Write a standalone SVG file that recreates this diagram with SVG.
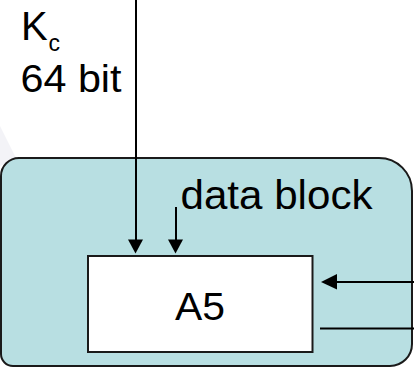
<svg xmlns="http://www.w3.org/2000/svg" width="414" height="368" viewBox="0 0 414 368">
<style>
text { font-family: "Liberation Sans", Arial, sans-serif; fill: #000; }
.conn { stroke: #000; stroke-width: 2; fill: none; }
.head { fill: #000; stroke: none; }
</style>
<rect x="0" y="0" width="414" height="368" fill="#ffffff"/>
<polygon points="0,126 16,158 0,166" fill="#f3f3f7"/>
<g id="container">
<path d="M 19,158 H 379 A 33 33 0 0 1 412,191 V 344 A 22 22 0 0 1 390,366 H 13 A 12 12 0 0 1 1,354 V 176 A 18 18 0 0 1 19,158 Z" fill="#b8dfe2" stroke="#1a1a1a" stroke-width="2"/>
</g>
<g id="a5">
<rect x="88" y="256" width="224.5" height="96" fill="#ffffff" stroke="#1a1a1a" stroke-width="2"/>
<text x="175" y="319.5" font-size="38" textLength="50" lengthAdjust="spacingAndGlyphs">A5</text>
</g>
<g id="kc-label">
<text x="21" y="40" font-size="40">K</text>
<text x="48.5" y="51" font-size="23">c</text>
<text x="20.5" y="91.5" font-size="39" textLength="101" lengthAdjust="spacingAndGlyphs">64 bit</text>
</g>
<g id="data-label">
<text x="180.5" y="208.5" font-size="40" textLength="192" lengthAdjust="spacingAndGlyphs">data block</text>
</g>
<g id="connectors">
<line class="conn" x1="136" y1="0" x2="136" y2="240"/>
<polygon class="head" points="128,239.5 143,239.5 135.5,253.5"/>
<line class="conn" x1="176" y1="207" x2="176" y2="240"/>
<polygon class="head" points="168,239.5 183,239.5 175.5,253.5"/>
<line class="conn" x1="414" y1="282" x2="336" y2="282"/>
<polygon class="head" points="337,274 337,289.5 321,282"/>
<line class="conn" x1="320" y1="328.5" x2="414" y2="328.5"/>
</g>
</svg>
